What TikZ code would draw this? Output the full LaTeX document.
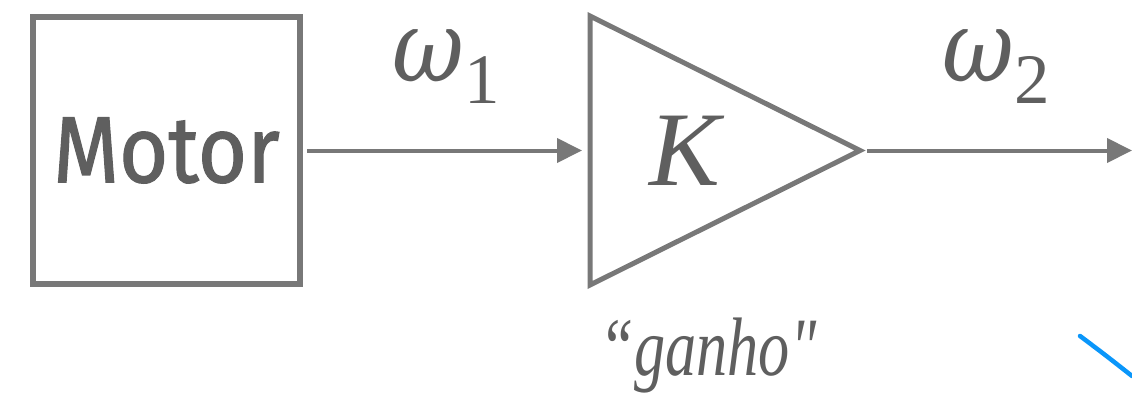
\RequirePackage{fix-cm}
\documentclass[tikz,border=0pt]{standalone}
\usepackage{fontspec}
\usetikzlibrary{arrows.meta}
\newfontfamily\motorfont[FakeStretch=0.9,FakeBold=1.2]{Fira Sans}
\newfontfamily\ganhofont[FakeStretch=0.75]{Liberation Serif}
\newfontfamily\symfont{Liberation Serif}
\newfontfamily\omegafont[FakeStretch=0.88]{DejaVu Serif}
\newcommand{\wsub}[1]{{\omegafont\itshape\fontsize{100}{105}\selectfont ω}\raisebox{-22pt}{\fontsize{71}{75}\selectfont #1}}
\definecolor{figG}{RGB}{120,120,120}
\definecolor{figT}{RGB}{95,95,95}
\definecolor{figL}{RGB}{10,150,250}

\begin{document}
\begin{tikzpicture}[x=1pt,y=-1pt,>={Triangle[length=25pt,width=24pt]},
  flow/.style={figG,line width=4pt,->,shorten <=4pt},
  mathlbl/.style={text=figT,inner sep=0pt,font=\symfont\fontsize{106}{110}\selectfont}]
\useasboundingbox (0,0) rectangle (1132,396);
\node[draw=figG,line width=6pt,minimum width=267pt,minimum height=266pt,inner sep=0pt,text=figT,font=\motorfont\fontsize{94}{100}\selectfont] (motor) at (166.5,150.5) {Motor};
\coordinate (gtop) at (590,16);
\coordinate (gtip) at (860,150.5);
\coordinate (gbot) at (590,285);
\coordinate (gin) at (590,150.5);
\coordinate (out) at (1132,150.5);
\draw[figG,line width=5pt,line join=miter] (gtop)--(gtip)--(gbot)--cycle;
\node[mathlbl,font=\symfont\itshape\fontsize{106}{110}\selectfont] (gain) at (685,150.5) {K};
\draw[flow,shorten >=8pt] (motor.east)--(gin) node[midway,above=45pt,mathlbl] (w1) {\wsub{1}};
\draw[flow,shorten <=7pt] (gtip)--(out) node[midway,above=45pt,mathlbl] (w2) {\wsub{2}};
\node[text=figT,anchor=base,inner sep=0pt,font=\ganhofont\itshape\fontsize{83}{90}\selectfont] (ganho) at (708,375) {“ganho"};
\draw[figL,line width=4.5pt,line cap=round] (1080,336) .. controls (1104,354) .. (1132,376);
\end{tikzpicture}
\end{document}
